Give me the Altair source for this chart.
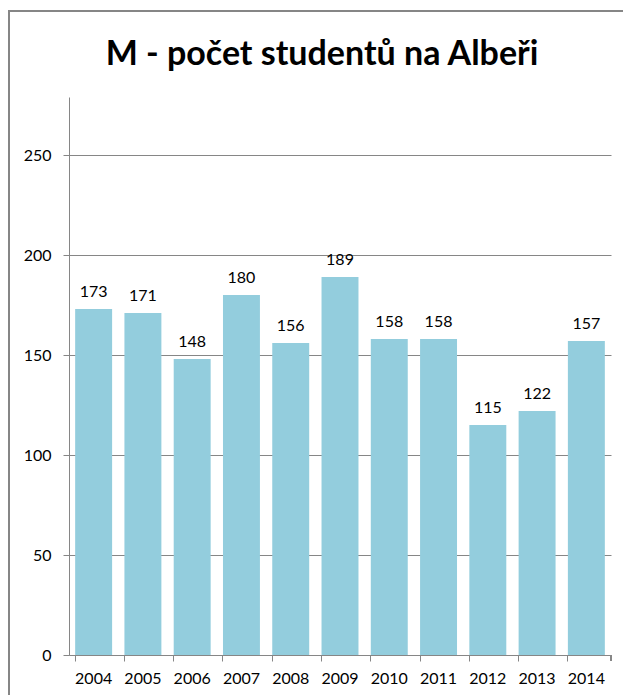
import altair as alt
import pandas as pd

years = ["2004", "2005", "2006", "2007", "2008", "2009", "2010", "2011", "2012", "2013", "2014"]
students = [173, 171, 148, 180, 156, 189, 158, 158, 115, 122, 157]
y_ticks = [0, 50, 100, 150, 200, 250]
title_text = "M - počet studentů na Albeři"

df = pd.DataFrame({"rok": years, "pocet": students})

FONT = "Lato"
W, H = 542, 558

x_enc = alt.X("rok:N", sort=years, title=None,
              scale=alt.Scale(paddingInner=0.25, paddingOuter=0.125),
              axis=alt.Axis(labelAngle=0, bandPosition=0, ticks=True, tickSize=6,
                            tickColor="#868686", domainColor="#868686",
                            labelFontSize=16, labelFont=FONT, labelColor="#000000",
                            labelPadding=9, labelBaseline="top", grid=False))
y_enc = alt.Y("pocet:Q", title=None,
              scale=alt.Scale(domain=[0, 279], nice=False),
              axis=alt.Axis(values=y_ticks, tickSize=6, tickColor="#868686",
                            domainColor="#868686", gridColor="#868686",
                            grid=True, labelFontSize=16, labelFont=FONT,
                            labelColor="#000000", labelPadding=12))

bars = alt.Chart(df).mark_bar(color="#93CDDD").encode(x=x_enc, y=y_enc)

labels = alt.Chart(df).mark_text(baseline="bottom", dy=-9, fontSize=16,
                                 font=FONT, color="#000000").encode(
    x=alt.X("rok:N", sort=years), y="pocet:Q", text="pocet:Q")

end_tick = alt.Chart(df).mark_rule(color="#868686").encode(
    x=alt.value(W), y=alt.value(H), y2=alt.value(H + 6))

frame = alt.Chart(df).mark_rect(fill=None, stroke="#868686", strokeWidth=1.5).encode(
    x=alt.value(-60), x2=alt.value(W + 40), y=alt.value(-86), y2=alt.value(H + 60))

title = alt.Chart(pd.DataFrame({"t": [title_text]})).mark_text(
    font=FONT, fontSize=34, fontWeight="bold", color="#000000",
    align="center", baseline="alphabetic").encode(
    text="t:N", x=alt.value(253), y=alt.value(-32))

chart = alt.layer(frame, bars, labels, end_tick, title).properties(
    width=W, height=H,
    padding={"left": 61, "top": 89, "right": 12, "bottom": 40},
    autosize=alt.AutoSizeParams(type="none"),
).configure_view(stroke=None)

chart.save("out.html", embed_options={"renderer": "svg", "actions": False})
